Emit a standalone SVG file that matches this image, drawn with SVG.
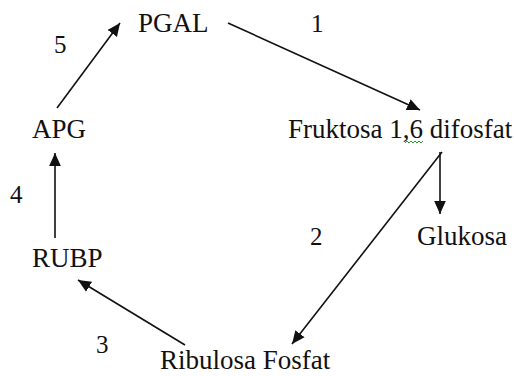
<svg xmlns="http://www.w3.org/2000/svg" width="514" height="376" viewBox="0 0 514 376">
<style>
text{font-family:"Liberation Serif","DejaVu Serif",serif;font-size:27px;fill:#111}
.num{font-size:25px}
.c{stroke:#111;stroke-width:1.6;fill:none}
</style>
<defs>
<marker id="ah2" viewBox="0 0 10 10" refX="10" refY="5" markerWidth="13" markerHeight="13" markerUnits="userSpaceOnUse" orient="auto">
<path d="M0,0.5 L10,5 L0,9.5 z" fill="#111"/>
</marker>
</defs>
<rect width="514" height="376" fill="#fff"/>
<g id="connectors">
<line class="c" x1="57" y1="108" x2="120" y2="23" marker-end="url(#ah2)"/>
<line class="c" x1="228" y1="23" x2="420" y2="110" marker-end="url(#ah2)"/>
<line class="c" x1="440" y1="152" x2="440" y2="214" marker-end="url(#ah2)"/>
<line class="c" x1="442" y1="152" x2="292" y2="344" marker-end="url(#ah2)"/>
<line class="c" x1="185" y1="345" x2="78" y2="280" marker-end="url(#ah2)"/>
<line class="c" x1="55" y1="238" x2="55" y2="153" marker-end="url(#ah2)"/>
</g>
<g id="labels">
<text class="num" x="54" y="53">5</text>
<text class="num" x="311" y="32">1</text>
<text class="num" x="10" y="203">4</text>
<text class="num" x="310" y="245">2</text>
<text class="num" x="96" y="353">3</text>
</g>
<g id="node-pgal"><text x="138" y="32">PGAL</text></g>
<g id="node-fruktosa"><text x="288" y="138">Fruktosa 1,6 difosfat</text>
<path d="M405,143 l2,-2 l2,2 l2,-2 l2,2 l2,-2 l2,2 l2,-2 l2,2 l2,-2" stroke="#2a9d2a" stroke-width="1" fill="none"/></g>
<g id="node-apg"><text x="32" y="138">APG</text></g>
<g id="node-glukosa"><text x="417" y="245">Glukosa</text></g>
<g id="node-rubp"><text x="32" y="267">RUBP</text></g>
<g id="node-ribulosa"><text x="160" y="369">Ribulosa Fosfat</text></g>
</svg>
